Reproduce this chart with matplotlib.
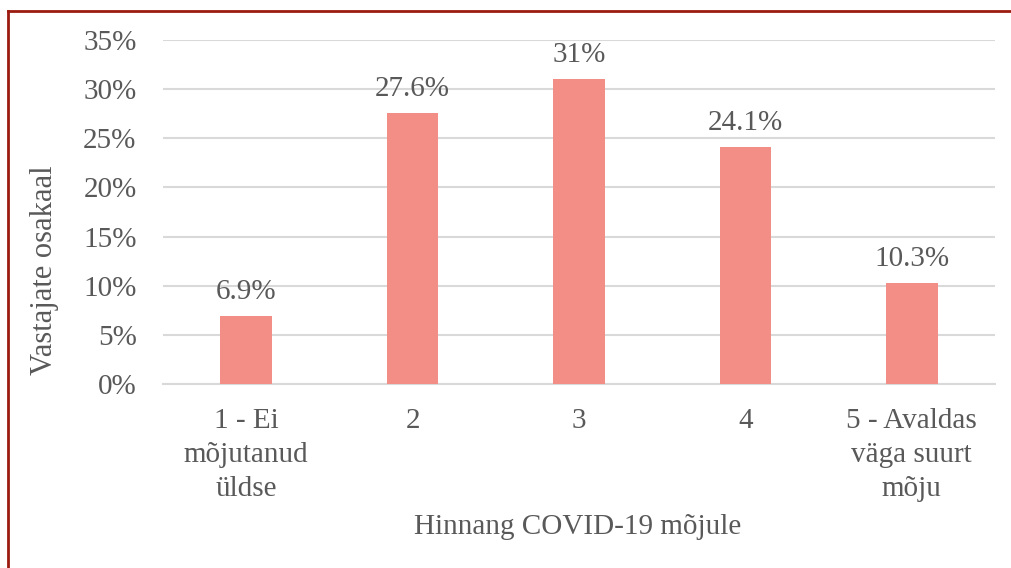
import matplotlib.pyplot as plt
from matplotlib.lines import Line2D

categories = ["1 - Ei\nmõjutanud\nüldse", "2", "3", "4", "5 - Avaldas\nväga suurt\nmõju"]
shares = [6.9, 27.6, 31.0, 24.1, 10.3]
value_labels = ["6.9%", "27.6%", "31%", "24.1%", "10.3%"]
yticks = [0, 5, 10, 15, 20, 25, 30, 35]

text_color = "#595959"
bar_color = "#f28e86"
grid_color = "#d9d9d9"
fs = 21

plt.rcParams['font.family'] = ['Liberation Serif', 'DejaVu Serif']

fig = plt.figure(figsize=(10.11, 5.68), dpi=100)
ax = fig.add_axes([163 / 1011, 1 - 384 / 568, 832 / 1011, 344 / 568])

x = list(range(len(categories)))
bars = ax.bar(x, shares, width=0.31, color=bar_color, zorder=3)
for b, lab in zip(bars, value_labels):
    ax.annotate(lab, (b.get_x() + b.get_width() / 2, b.get_height()),
                xytext=(0, 8), textcoords="offset points",
                ha="center", va="bottom", fontsize=fs, color=text_color)

ax.set_xlim(-0.5, 4.5)
ax.set_ylim(0, 35)
ax.set_yticks(yticks)
ax.set_yticklabels([f"{t}%" for t in yticks], fontsize=fs, color=text_color)
ax.set_xticks(x)
ax.set_xticklabels(categories, fontsize=fs, color=text_color, linespacing=1.4)
ax.tick_params(length=0)
ax.tick_params(axis="x", pad=17)
ax.tick_params(axis="y", pad=19)
ax.grid(axis="y", color=grid_color, linewidth=1.5, zorder=0)
for s in ["top", "right", "left"]:
    ax.spines[s].set_visible(False)
ax.spines["bottom"].set_color(grid_color)
ax.spines["bottom"].set_linewidth(1.5)

fig.text(578 / 1011, 1 - 527 / 568, "Hinnang COVID-19 mõjule", ha="center", va="center",
         fontsize=fs, color=text_color)
fig.text(45 / 1011, 1 - 270 / 568, "Vastajate osakaal", ha="center", va="center",
         rotation=90, fontsize=22, color=text_color)

# dark red frame at top-left
fig.add_artist(Line2D([7.5 / 1011, 7.5 / 1011], [0, 1 - 10.5 / 568], color="#9b1b10", linewidth=2))
fig.add_artist(Line2D([7.5 / 1011, 1], [1 - 10.5 / 568, 1 - 10.5 / 568], color="#9b1b10", linewidth=2))

fig.savefig("out.png", dpi=100)
